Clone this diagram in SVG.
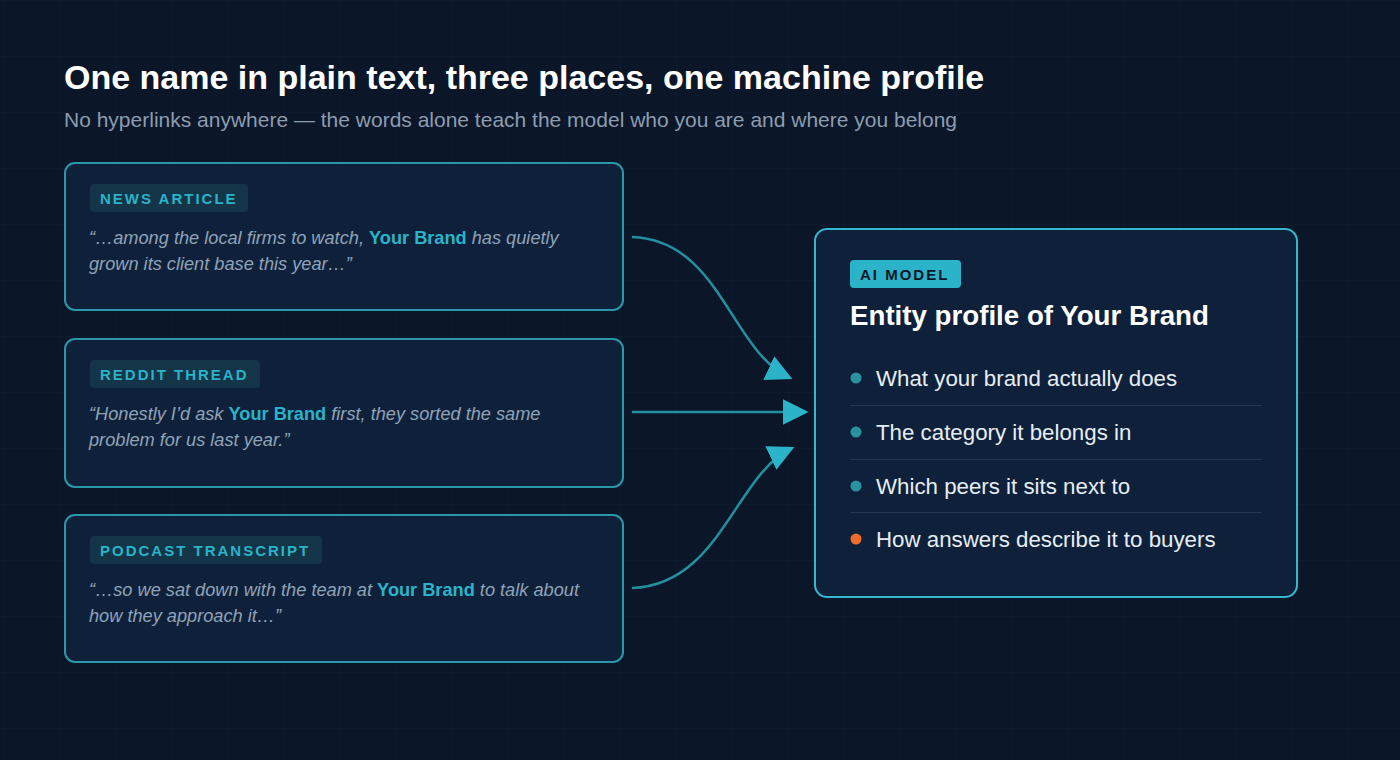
<svg xmlns="http://www.w3.org/2000/svg" width="1400" height="760" viewBox="0 0 1400 760">
<defs>
<pattern id="grid" x="4" y="0" width="56" height="56" patternUnits="userSpaceOnUse">
<path d="M0 0H56M0 0V56" fill="none" stroke="#111f34" stroke-width="1"/>
</pattern>
<marker id="ah" viewBox="0 0 10 10" refX="9" refY="5" markerWidth="26" markerHeight="26" markerUnits="userSpaceOnUse" orient="auto">
<path d="M0 0L10 5L0 10Z" fill="#2ab3c9"/>
</marker>
<style>
.card{fill:#0f213a;stroke:#2a98a8;stroke-width:2}
.tag{fill:#143447}
.tagt{font-family:"Liberation Sans",Arial,sans-serif;font-weight:700;font-size:15px;letter-spacing:2px;fill:#2ab3c9}
.q{font-family:"Liberation Sans",Arial,sans-serif;font-style:italic;font-size:18.2px;fill:#8fa3b8}
.b{font-weight:700;font-style:normal;fill:#2ab3c9}
.item{font-family:"Liberation Sans",Arial,sans-serif;font-size:22.3px;fill:#e6edf5}
.sep{stroke:#22364f;stroke-width:1}
.conn{fill:none;stroke:#24909f;stroke-width:2.5}
</style>
</defs>
<rect width="1400" height="760" fill="#0b1628"/>
<rect width="1400" height="760" fill="url(#grid)"/>
<text x="64" y="89" font-family="Liberation Sans,Arial,sans-serif" font-weight="700" font-size="34" fill="#ffffff">One name in plain text, three places, one machine profile</text>
<text x="64" y="127" font-family="Liberation Sans,Arial,sans-serif" font-size="21" fill="#8c9db0">No hyperlinks anywhere — the words alone teach the model who you are and where you belong</text>

<g id="connectors">
<path class="conn" d="M632 237C720 240 730 350 790 378" marker-end="url(#ah)"/>
<path class="conn" d="M632 412H806" marker-end="url(#ah)"/>
<path class="conn" d="M632 588C720 585 735 475 792 448" marker-end="url(#ah)"/>
</g>

<g id="news">
<rect class="card" x="65" y="163" width="558" height="147" rx="10"/>
<rect class="tag" x="90" y="184" width="158" height="28" rx="4"/>
<text class="tagt" x="100" y="204">NEWS ARTICLE</text>
<text class="q" x="89" y="244">“…among the local firms to watch, <tspan class="b">Your Brand</tspan> has quietly</text>
<text class="q" x="89" y="270">grown its client base this year…”</text>
</g>

<g id="reddit">
<rect class="card" x="65" y="339" width="558" height="148" rx="10"/>
<rect class="tag" x="90" y="360" width="170" height="28" rx="4"/>
<text class="tagt" x="100" y="380">REDDIT THREAD</text>
<text class="q" x="89" y="420">“Honestly I’d ask <tspan class="b">Your Brand</tspan> first, they sorted the same</text>
<text class="q" x="89" y="446">problem for us last year.”</text>
</g>

<g id="podcast">
<rect class="card" x="65" y="515" width="558" height="147" rx="10"/>
<rect class="tag" x="90" y="536" width="232" height="28" rx="4"/>
<text class="tagt" x="100" y="556">PODCAST TRANSCRIPT</text>
<text class="q" x="89" y="596">“…so we sat down with the team at <tspan class="b">Your Brand</tspan> to talk about</text>
<text class="q" x="89" y="622">how they approach it…”</text>
</g>

<g id="model">
<rect x="815" y="229" width="482" height="368" rx="12" fill="#0f213a" stroke="#35b7cc" stroke-width="2"/>
<rect x="850" y="260" width="111" height="28" rx="4" fill="#2ab3c9"/>
<text x="860" y="280" font-family="Liberation Sans,Arial,sans-serif" font-weight="700" font-size="15" letter-spacing="2" fill="#0b1628">AI MODEL</text>
<text x="850" y="325" font-family="Liberation Sans,Arial,sans-serif" font-weight="700" font-size="27.7" fill="#ffffff">Entity profile of Your Brand</text>
<circle cx="856" cy="378" r="5.5" fill="#2a929f"/>
<text class="item" x="876" y="386">What your brand actually does</text>
<line class="sep" x1="850" y1="405.5" x2="1262" y2="405.5"/>
<circle cx="856" cy="432" r="5.5" fill="#2a929f"/>
<text class="item" x="876" y="440">The category it belongs in</text>
<line class="sep" x1="850" y1="459.5" x2="1262" y2="459.5"/>
<circle cx="856" cy="486" r="5.5" fill="#2a929f"/>
<text class="item" x="876" y="494">Which peers it sits next to</text>
<line class="sep" x1="850" y1="512.5" x2="1262" y2="512.5"/>
<circle cx="856" cy="539" r="5.5" fill="#f26b2a"/>
<text class="item" x="876" y="547">How answers describe it to buyers</text>
</g>
</svg>
